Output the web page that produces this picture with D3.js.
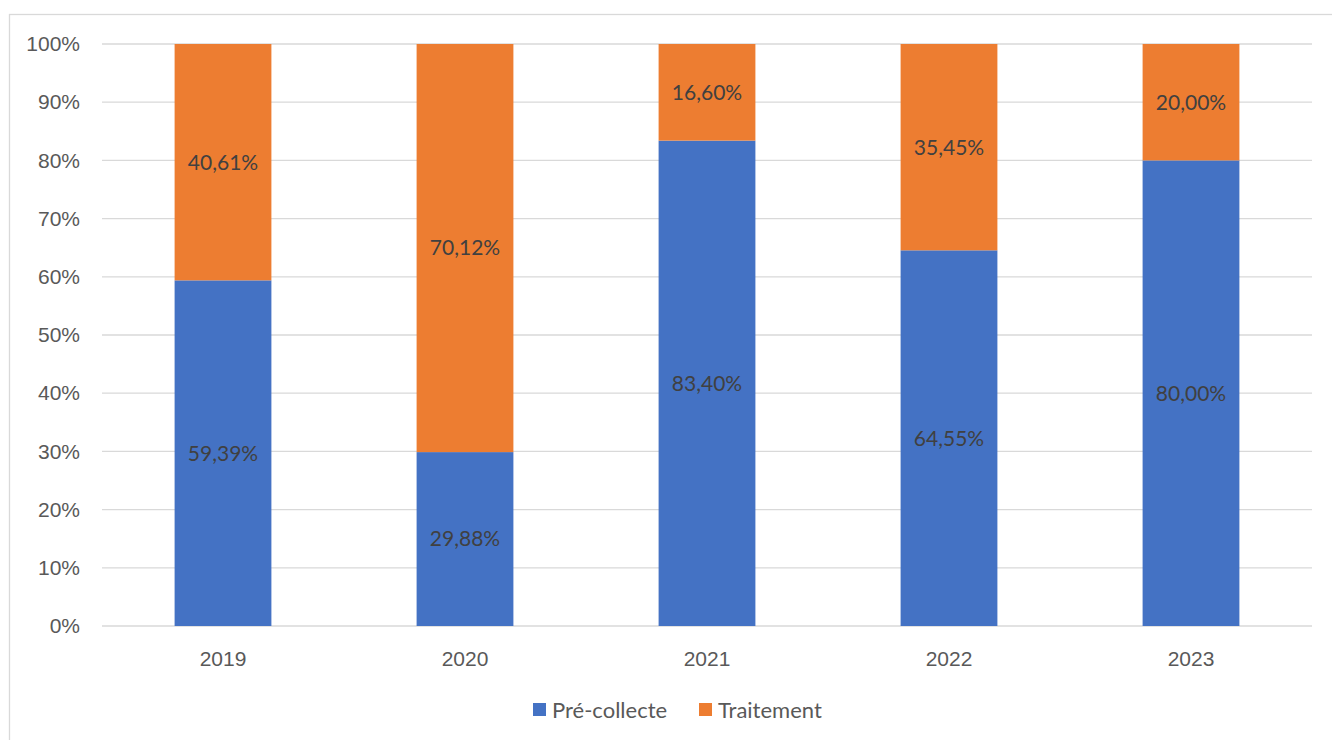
<!DOCTYPE html>
<meta charset="utf-8">
<html>
<head>
<style>
    body { margin: 0; background: #fff; }
    svg { font-family: Lato, "Open Sans", sans-serif; }
    .grid line { stroke: #d9d9d9; stroke-width: 1.3px; }
    .tick text { fill: #595959; font-size: 21px; }
</style>
</head>
<body>
<svg width="1332" height="740"></svg>
<script src="https://d3js.org/d3.v7.min.js"></script>
<script>
    var years = ["2019", "2020", "2021", "2022", "2023"];
    var preCollecte = [59.39, 29.88, 83.40, 64.55, 80.00];
    var traitement = [40.61, 70.12, 16.60, 35.45, 20.00];
    var seriesNames = ["Pré-collecte", "Traitement"];
    var colors = ["#4472C4", "#ED7D31"];
    var yTicks = [0, 10, 20, 30, 40, 50, 60, 70, 80, 90, 100];

    var svg = d3.select("svg");

    // chart frame
    svg.append("rect")
        .attr("x", 9.5).attr("y", 14.5)
        .attr("width", 1340).attr("height", 740)
        .attr("fill", "none").attr("stroke", "#d9d9d9").attr("stroke-width", 1.3);

    var x = d3.scaleBand().domain(years).range([102, 1312])
        .paddingInner(0.6).paddingOuter(0.3);
    var y = d3.scaleLinear().domain([0, 100]).range([626, 44]);

    // gridlines
    svg.append("g").attr("class", "grid")
        .selectAll("line").data(yTicks).enter().append("line")
        .attr("x1", 102).attr("x2", 1312)
        .attr("y1", d => y(d)).attr("y2", d => y(d));

    // y labels
    var yAxis = svg.append("g").attr("transform", "translate(80,0)")
        .call(d3.axisLeft(y).tickValues(yTicks).tickFormat(d => d + "%").tickSize(0).tickPadding(0));
    yAxis.select(".domain").remove();

    // x labels
    var xAxis = svg.append("g").attr("transform", "translate(0,626)")
        .call(d3.axisBottom(x).tickSize(0).tickPadding(25));
    xAxis.select(".domain").remove();

    var rows = years.map((yr, i) => ({ year: yr, a: preCollecte[i], b: traitement[i] }));
    var stacked = d3.stack().keys(["a", "b"])(rows);

    var fmt = v => v.toFixed(2).replace(".", ",") + "%";

    stacked.forEach((layer, k) => {
        var g = svg.append("g");
        g.selectAll("rect").data(layer).enter().append("rect")
            .attr("x", d => x(d.data.year))
            .attr("width", x.bandwidth())
            .attr("y", d => y(d[1]))
            .attr("height", d => y(d[0]) - y(d[1]))
            .attr("fill", colors[k]);
        g.selectAll("text").data(layer).enter().append("text")
            .attr("x", d => x(d.data.year) + x.bandwidth() / 2)
            .attr("y", d => (y(d[0]) + y(d[1])) / 2)
            .attr("dy", "0.35em")
            .attr("text-anchor", "middle")
            .attr("fill", "#404040")
            .attr("font-size", 21)
            .text(d => fmt(d[1] - d[0]));
    });

    // legend
    var legendX = [533, 699];
    var legend = svg.append("g");
    seriesNames.forEach((name, i) => {
        legend.append("rect")
            .attr("x", legendX[i]).attr("y", 703)
            .attr("width", 13).attr("height", 13)
            .attr("fill", colors[i]);
        legend.append("text")
            .attr("x", legendX[i] + 19).attr("y", 710)
            .attr("dy", "0.35em")
            .attr("fill", "#595959")
            .attr("font-size", 22)
            .text(name);
    });
</script>
</body>
</html>
